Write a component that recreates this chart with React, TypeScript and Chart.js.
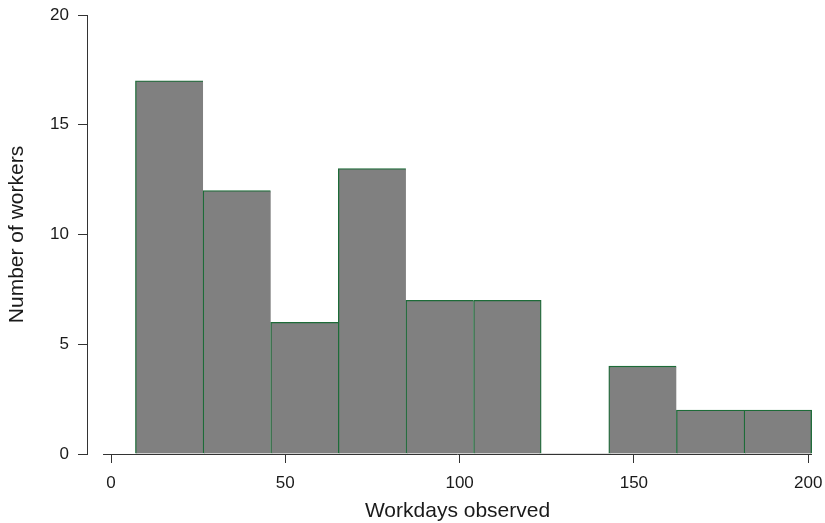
import React, { useEffect, useRef } from "react";
import { Chart, registerables } from "chart.js";

Chart.register(...registerables);

// Histogram data
const binEdges = [7, 26.4, 45.8, 65.2, 84.6, 104, 123.4, 142.8, 162.2, 181.6, 201];
const counts = [17, 12, 6, 13, 7, 7, 0, 4, 2, 2];
const xTickValues = [0, 50, 100, 150, 200];
const yTickValues = [0, 5, 10, 15, 20];
const xTitle = "Workdays observed";
const yTitle = "Number of workers";

const X_MIN = -6.9;
const X_MAX = 201.1;
const X_AXIS_START = -2.3;

const FONT = "'Liberation Sans', Arial, Helvetica, sans-serif";
const TEXT = "#1a1a1a";
const AXIS = "#333333";
const FILL = "#808080";
const EDGE = "#1d6b38";

export default function App() {
  const ref = useRef<HTMLCanvasElement | null>(null);

  useEffect(() => {
    if (!ref.current) return;
    const points = counts.map((c, i) => ({
      x: (binEdges[i] + binEdges[i + 1]) / 2,
      y: c,
    }));

    const xAxisDecor = {
      id: "xAxisDecor",
      beforeDatasetsDraw(chart: any) {
        const { ctx, chartArea, scales } = chart;
        const x0 = scales.x.getPixelForValue(X_AXIS_START);
        const y = Math.round(chartArea.bottom) + 0.5;
        ctx.save();
        ctx.strokeStyle = AXIS;
        ctx.lineWidth = 1;
        ctx.beginPath();
        ctx.moveTo(x0, y);
        ctx.lineTo(chartArea.right, y);
        ctx.stroke();
        ctx.restore();
      },
      afterDraw(chart: any) {
        const { ctx, chartArea, scales } = chart;
        const x0 = scales.x.getPixelForValue(X_AXIS_START);
        const cx = (x0 + chartArea.right) / 2;
        ctx.save();
        ctx.fillStyle = TEXT;
        ctx.font = `21px ${FONT}`;
        ctx.textAlign = "center";
        ctx.textBaseline = "alphabetic";
        ctx.fillText(xTitle, cx, chartArea.bottom + 63);
        ctx.restore();
      },
    };

    const chart = new Chart(ref.current, {
      type: "bar",
      data: {
        datasets: [
          {
            data: points as any,
            backgroundColor: FILL,
            borderColor: EDGE,
            borderWidth: (ctx: any) => {
              const i = ctx.dataIndex;
              if (counts[i] === 0) return 0;
              const next = counts[i + 1];
              const right = next === undefined || next === 0 ? 1.3 : 0;
              return { top: 1.3, left: 1.3, right, bottom: 0 };
            },
            borderSkipped: false,
            barPercentage: 1,
            categoryPercentage: 1,
          } as any,
        ],
      },
      options: {
        animation: false,
        responsive: false,
        events: [],
        layout: { padding: { left: 0, top: 15, right: 13, bottom: 0 } },
        plugins: {
          legend: { display: false },
          tooltip: { enabled: false },
          title: { display: false },
        },
        scales: {
          x: {
            type: "linear",
            min: X_MIN,
            max: X_MAX,
            offset: false,
            border: { display: false },
            grid: {
              offset: false,
              drawOnChartArea: false,
              drawTicks: true,
              tickLength: 9,
              color: AXIS,
              lineWidth: 1,
            },
            afterBuildTicks: (scale: any) => {
              scale.ticks = xTickValues.map((v) => ({ value: v }));
            },
            afterFit: (scale: any) => {
              scale.height = 69;
              scale.paddingLeft = 0;
              scale.paddingRight = 0;
            },
            ticks: {
              padding: 10,
              color: TEXT,
              font: { family: FONT, size: 17 },
              maxRotation: 0,
              autoSkip: false,
            },
            title: { display: false },
          },
          y: {
            type: "linear",
            min: 0,
            max: 20,
            border: { display: true, color: AXIS, width: 1 },
            grid: {
              drawOnChartArea: false,
              drawTicks: true,
              tickLength: 9,
              color: AXIS,
              lineWidth: 1,
            },
            afterBuildTicks: (scale: any) => {
              scale.ticks = yTickValues.map((v) => ({ value: v }));
            },
            afterFit: (scale: any) => {
              scale.width = 87;
              scale.paddingTop = 0;
              scale.paddingBottom = 0;
            },
            ticks: {
              padding: 9,
              color: TEXT,
              font: { family: FONT, size: 17 },
              autoSkip: false,
            },
            title: {
              display: true,
              text: yTitle,
              color: TEXT,
              font: { family: FONT, size: 21, lineHeight: 1.2 },
              padding: { top: 5, bottom: 0 },
            },
          },
        },
      },
      plugins: [xAxisDecor],
    } as any);

    return () => chart.destroy();
  }, []);

  return (
    <div
      style={{
        position: "absolute",
        left: 0,
        top: 0,
        width: 825,
        height: 523,
        background: "#ffffff",
      }}
    >
      <canvas ref={ref} width={825} height={523} style={{ display: "block" }} />
    </div>
  );
}
